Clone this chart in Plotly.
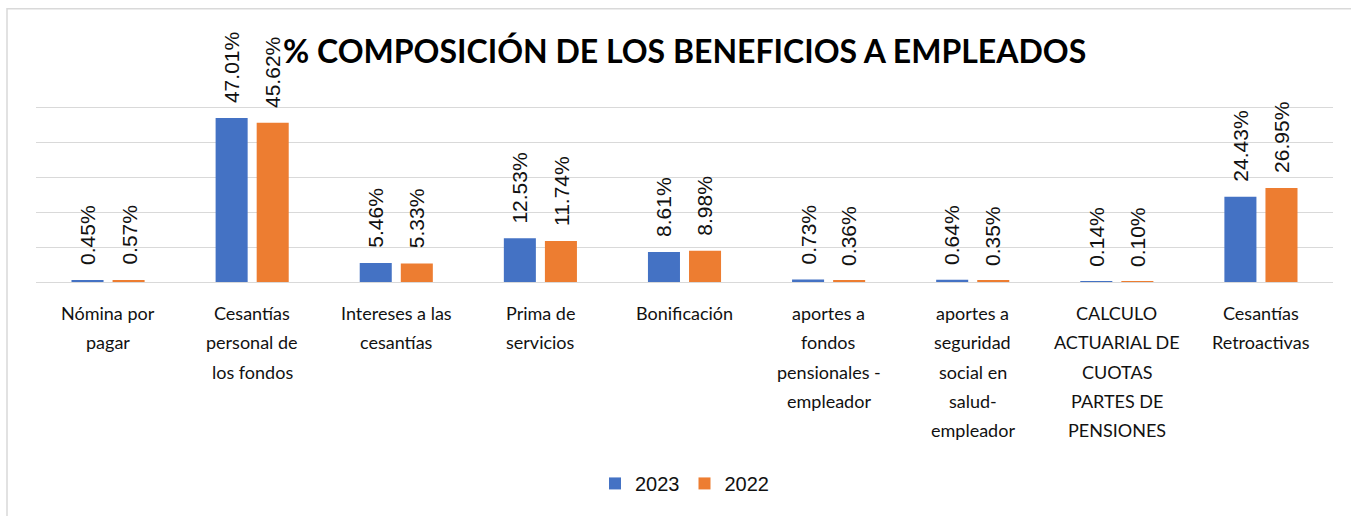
import plotly.graph_objects as go

categories = [
    "Nómina por\npagar",
    "Cesantías\npersonal de\nlos fondos",
    "Intereses a las\ncesantías",
    "Prima de\nservicios",
    "Bonificación",
    "aportes a\nfondos\npensionales -\nempleador",
    "aportes a\nseguridad\nsocial en\nsalud-\nempleador",
    "CALCULO\nACTUARIAL DE\nCUOTAS\nPARTES DE\nPENSIONES",
    "Cesantías\nRetroactivas",
]
values_2023 = [0.45, 47.01, 5.46, 12.53, 8.61, 0.73, 0.64, 0.14, 24.43]
values_2022 = [0.57, 45.62, 5.33, 11.74, 8.98, 0.36, 0.35, 0.10, 26.95]
series_names = ["2023", "2022"]
colors = ["#4472C4", "#ED7D31"]
title_text = "% COMPOSICIÓN DE LOS BENEFICIOS A EMPLEADOS"
grid_values = [10, 20, 30, 40, 50]

W, H = 1351, 516
YMAX = 51
ML, MR, MT, MB = 36, 18, 103.5, 234
BARGAP, BARGROUPGAP = 0.43, 0.22
plot_w = W - ML - MR
plot_h = H - MT - MB
slot_px = plot_w / len(categories) * (1 - BARGAP) / 2

HUMAN = "Lato, Liberation Sans, sans-serif"
SANS = "Liberation Sans, Arial, sans-serif"
TXT = "#111111"

keys = [c.replace("\n", " ") for c in categories]

fig = go.Figure()
for name, vals, col in zip(series_names, [values_2023, values_2022], colors):
    fig.add_trace(go.Bar(x=keys, y=vals, name=name, marker=dict(color=col, line=dict(width=0)),
                         hoverinfo="x+y"))

annotations = []
# data labels (rotated)
for k, vals in enumerate([values_2023, values_2022]):
    shift = (-0.5 + k) * slot_px
    for key, v in zip(keys, vals):
        annotations.append(dict(
            x=key, y=v, xref="x", yref="y", text=f"{v:.2f}%", showarrow=False,
            textangle=-90, xanchor="center", yanchor="bottom", xshift=shift, yshift=13,
            font=dict(family=SANS, size=21, color=TXT)))

# category labels
LINE = 29.3
for key, cat in zip(keys, categories):
    for i, line in enumerate(cat.split("\n")):
        annotations.append(dict(
            x=key, y=0, xref="x", yref="y", text=line, showarrow=False,
            xanchor="center", yanchor="middle", yshift=-(31 + i * LINE),
            font=dict(family=HUMAN, size=18, color=TXT)))

# title
annotations.append(dict(
    x=0.5, y=(plot_h + (MT - 50)) / plot_h, xref="paper", yref="paper", text=f"<b>{title_text}</b>",
    showarrow=False, xanchor="center", yanchor="middle",
    font=dict(family=HUMAN, size=32, color="#000000")))

border = dict(type="rect", xref="paper", yref="paper",
              x0=(7 - ML) / plot_w, x1=(W + 10 - ML) / plot_w,
              y0=-(MB + 10) / plot_h, y1=(plot_h + MT - 8) / plot_h,
              line=dict(color="#D9D9D9", width=1.5), fillcolor="rgba(0,0,0,0)", layer="below")

fig.update_layout(
    width=W, height=H,
    margin=dict(l=ML, r=MR, t=MT, b=MB, pad=0, autoexpand=False),
    paper_bgcolor="white", plot_bgcolor="white",
    barmode="group", bargap=BARGAP, bargroupgap=BARGROUPGAP,
    showlegend=True,
    legend=dict(orientation="h", x=0.5, xanchor="center", y=-(484 - (H - MB)) / plot_h, yanchor="middle",
                font=dict(family=SANS, size=20, color=TXT), itemwidth=30, traceorder="normal"),
    xaxis=dict(showticklabels=False, showgrid=False, zeroline=False, showline=False, ticks=""),
    yaxis=dict(range=[0, YMAX], tickvals=grid_values, showticklabels=False, showgrid=True,
               gridcolor="#D9D9D9", gridwidth=1.3, zeroline=True, zerolinecolor="#D9D9D9",
               zerolinewidth=1.3, ticks=""),
    annotations=annotations,
    shapes=[border],
)

fig.write_html("out.html", config={"displayModeBar": False},
               post_script="document.body.style.margin='0';")
